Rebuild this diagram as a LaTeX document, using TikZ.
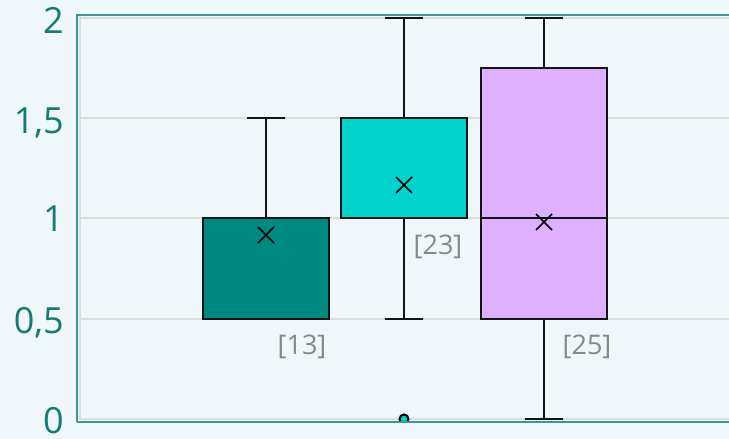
\documentclass[tikz,border=0pt]{standalone}
\usepackage{fontspec}
\setmainfont{Open Sans}
\definecolor{bg}{RGB}{239,247,250}
\definecolor{axisteal}{RGB}{62,150,146}
\definecolor{ticktxt}{RGB}{20,122,116}
\definecolor{gridgray}{RGB}{218,222,223}
\definecolor{boxA}{RGB}{0,137,128}
\definecolor{boxB}{RGB}{0,212,204}
\definecolor{boxC}{RGB}{222,176,255}
\definecolor{cnt}{RGB}{136,136,136}
\tikzset{
  ticklbl/.style={anchor=base east, text=ticktxt, font=\fontsize{36}{36}\selectfont, inner sep=0pt},
  cntlbl/.style={anchor=center, text=cnt, font=\fontsize{27}{27}\selectfont, inner sep=0pt},
  gridln/.style={draw=gridgray, line width=2pt},
  axisln/.style={draw=axisteal, line width=2pt},
  boxst/.style={draw=black!92, line width=2pt},
  whisk/.style={draw=black!92, line width=2pt},
  meanmk/.style={draw=black, line width=1.6pt}
}
\begin{document}
\begin{tikzpicture}[x=1pt,y=-1pt]
\fill[bg] (0,0) rectangle (729,439);
\useasboundingbox (0,0) rectangle (729,439);
% grid
\draw[gridln] (80,18) -- (729,18);
\draw[gridln] (80,118) -- (729,118);
\draw[gridln] (80,218) -- (729,218);
\draw[gridln] (80,319) -- (729,319);
\draw[gridln] (80,418.5) -- (729,418.5);
\draw[gridln] (80,16) -- (80,420);
% tick labels
\node[ticklbl] (t2) at (64,33) {2};
\node[ticklbl] (t15) at (64,133) {1,5};
\node[ticklbl] (t1) at (64,231) {1};
\node[ticklbl] (t05) at (64,333) {0,5};
\node[ticklbl] (t0) at (64,433) {0};
% box 1
\draw[whisk] (266,218) -- (266,118);
\draw[whisk] (247,118) -- (285,118);
\draw[boxst, fill=boxA] (203,218) rectangle (329,319);
\draw[meanmk] (258,227) -- (274,243) (258,243) -- (274,227);
% box 2
\draw[whisk] (404,118) -- (404,17.7);
\draw[whisk] (385,17.7) -- (423,17.7);
\draw[whisk] (404,218) -- (404,319);
\draw[whisk] (385,319) -- (423,319);
\draw[boxst, fill=boxB] (341,118) rectangle (467,218);
\draw[meanmk] (396,177) -- (412,193) (396,193) -- (412,177);
\begin{scope}
\clip (80,15) rectangle (729,420);
\draw[black, line width=2pt, fill=boxB] (404,419) circle (4.5);
\end{scope}
% box 3
\draw[whisk] (544,68) -- (544,17.7);
\draw[whisk] (525,17.7) -- (563,17.7);
\draw[whisk] (544,319) -- (544,419);
\draw[whisk] (525,419) -- (563,419);
\draw[boxst, fill=boxC] (481,68) rectangle (607,319);
\draw[boxst] (481,218) -- (607,218);
\draw[meanmk] (536,214) -- (552,230) (536,230) -- (552,214);
% axes
\draw[axisln] (77,15) -- (729,15);
\draw[axisln] (77,14) -- (77,422);
\draw[axisln] (77,421.5) -- (729,421.5);
% count labels
\node[cntlbl] (c13) at (302,347) {[13]};
\node[cntlbl] (c23) at (438,247) {[23]};
\node[cntlbl] (c25) at (587,347) {[25]};
\end{tikzpicture}
\end{document}
